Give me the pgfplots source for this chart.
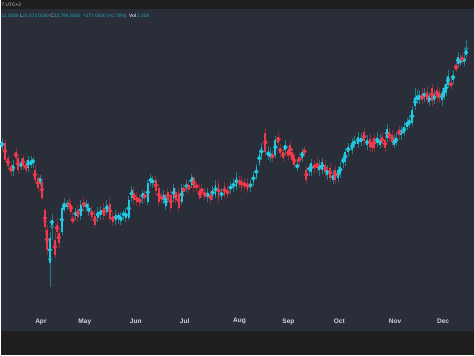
\documentclass[border=0pt]{standalone}
\usepackage{fontspec}
\setmainfont{Liberation Sans}
\usepackage{pgfplots}
\usepackage{pgfplotstable}
\pgfplotsset{compat=1.18}
\definecolor{bgc}{HTML}{2A2E39}
\definecolor{stripc}{HTML}{1E1E1E}
\definecolor{upc}{HTML}{22C8DF}
\definecolor{dnc}{HTML}{EE3A4C}
\definecolor{upw}{HTML}{1D7E8E}
\definecolor{dnw}{HTML}{8A2E3C}
\definecolor{labc}{HTML}{D1D4DC}
\definecolor{hdrc}{HTML}{26A9BC}
\definecolor{hdrw}{HTML}{C8CBD2}
% columns: x position, body top, body bottom, high, low (pixel rows, measured from the top)
\pgfplotstableread{
x t b h l
1 142 147 138 150
12 165 171 160 176
20 163 167 158 170
27 160 168 156 172
30 161 165 156 168
32 160 163 157 168
39 178 183 175 186
49 238 263 232 288
51 220 225 214 240
61 208 232 205 235
63 203 210 198 212
66 203 207 200 210
75 212 216 208 220
80 205 216 200 220
86 204 208 200 212
88 208 212 203 216
97 212 218 207 222
100 210 215 206 220
106 205 212 200 215
115 215 220 210 225
118 215 219 212 224
120 217 221 212 225
123 213 216 210 220
125 213 218 208 222
128 200 218 196 220
131 190 198 186 202
142 193 198 190 204
147 183 202 180 205
150 178 183 174 186
152 180 183 176 188
163 195 200 190 204
165 198 206 194 210
173 188 198 184 202
181 188 202 184 205
186 185 188 180 192
191 177 185 174 188
207 193 197 188 202
212 190 196 186 200
215 185 195 180 198
221 192 197 188 200
230 186 190 182 194
233 183 188 178 192
236 177 187 172 190
250 183 188 180 192
253 175 182 172 186
256 167 177 164 180
259 154 163 150 166
261 147 156 143 160
268 152 156 146 160
270 154 157 148 162
275 140 155 136 158
285 145 150 140 154
297 165 168 160 171
302 152 158 148 162
309 168 170 164 176
311 163 172 159 176
319 165 170 160 176
322 162 170 158 174
327 170 175 165 180
333 175 180 170 184
338 170 178 166 182
340 167 173 162 178
343 158 163 154 168
345 152 162 148 166
348 147 152 143 156
352 143 150 138 154
354 141 145 136 148
358 137 144 132 148
361 138 142 133 146
367 140 145 135 150
377 138 143 132 147
380 140 145 134 148
387 129 138 124 142
394 140 145 134 148
396 138 143 132 146
401 130 135 126 140
404 127 133 122 136
407 122 127 118 130
409 120 125 115 128
412 110 123 106 126
415 98 106 88 110
417 96 100 90 104
419 95 100 90 104
424 93 97 88 102
429 96 102 92 106
434 95 100 90 104
442 93 100 88 106
444 88 97 84 100
446 84 92 78 96
448 76 85 70 88
453 75 80 70 84
458 57 64 52 68
460 60 63 55 66
464 58 62 54 66
466 50 55 40 58
}\uptab
\pgfplotstableread{
x t b h l
4 143 160 140 162
7 158 166 155 170
10 166 172 163 176
15 152 158 148 162
17 158 170 155 174
22 158 166 155 170
25 164 170 160 173
34 170 180 165 183
37 178 188 175 192
41 182 198 178 200
44 210 227 208 235
46 230 250 225 255
54 240 255 232 258
56 225 232 218 236
58 233 243 228 248
68 203 207 198 212
70 205 212 200 215
72 219 222 212 224
77 210 217 205 222
83 202 207 197 212
91 211 217 206 220
94 216 225 210 228
103 208 216 203 220
109 204 219 198 222
112 216 222 212 226
133 193 200 187 205
136 197 202 192 206
139 199 203 194 207
144 195 198 190 202
155 180 191 176 194
158 188 202 184 206
161 196 200 192 204
167 192 200 188 204
170 195 208 190 212
175 192 200 188 204
178 193 208 188 212
183 188 192 184 196
188 185 190 180 194
193 178 188 175 192
196 185 188 181 192
199 190 198 184 200
201 188 193 184 198
204 192 197 188 200
210 195 200 190 204
218 184 198 180 202
224 186 195 182 198
227 190 195 186 198
239 180 185 176 188
241 180 188 176 191
244 183 187 178 190
247 183 190 178 193
265 133 152 128 156
272 155 158 150 162
278 137 143 132 146
280 148 153 144 157
283 152 158 148 162
288 150 156 146 160
290 145 155 141 158
292 152 160 148 164
294 157 165 153 168
299 157 162 153 166
304 150 153 146 157
306 170 180 166 184
314 165 168 160 174
317 163 168 158 172
325 165 172 160 178
330 168 178 164 182
335 170 180 166 184
364 132 141 128 145
370 139 147 134 152
372 143 148 138 152
374 138 148 134 152
382 137 143 132 147
385 140 148 136 152
389 132 138 128 142
392 135 142 130 146
399 130 135 126 140
422 95 100 88 104
427 92 100 86 104
432 88 101 84 106
437 90 97 86 102
439 92 98 88 103
451 83 86 78 90
456 65 70 60 72
462 57 61 52 64
}\dntab
\begin{document}
\begin{tikzpicture}
\begin{axis}[
  scale only axis, width=474bp, height=356bp,
  xmin=0, xmax=474, ymin=0, ymax=356,
  axis background/.style={fill=bgc},
  axis line style={draw=none},
  major tick length=0pt,
  ytick=\empty,
  xtick={40,84,135,184,239,288,339,395,443},
  xticklabels={Apr,May,Jun,Jul,Aug,Sep,Oct,Nov,Dec},
  xticklabel style={anchor=center, yshift=34bp, font=\bfseries\fontsize{6.6}{8}\selectfont, text=labc},
  clip mode=individual,
]
\fill[stripc] (axis cs:0,0) rectangle (axis cs:474,24);
\fill[stripc] (axis cs:0,347) rectangle (axis cs:474,356);
% wicks
\addplot[upw, only marks, mark=none, error bars/.cd, y dir=both, y explicit, error mark=none,
  error bar style={line width=0.7bp, color=upw}]
  table[x=x, y expr={356-(\thisrow{h}+\thisrow{l})/2}, y error expr={(\thisrow{l}-\thisrow{h})/2}] \uptab;
\addplot[dnw, only marks, mark=none, error bars/.cd, y dir=both, y explicit, error mark=none,
  error bar style={line width=0.7bp, color=dnw}]
  table[x=x, y expr={356-(\thisrow{h}+\thisrow{l})/2}, y error expr={(\thisrow{l}-\thisrow{h})/2}] \dntab;
% bodies
\addplot[upc, only marks, mark=none, error bars/.cd, y dir=both, y explicit, error mark=none,
  error bar style={line width=1.9bp, color=upc}]
  table[x=x, y expr={356-(\thisrow{t}+\thisrow{b})/2}, y error expr={(\thisrow{b}-\thisrow{t})/2}] \uptab;
\addplot[dnc, only marks, mark=none, error bars/.cd, y dir=both, y explicit, error mark=none,
  error bar style={line width=1.9bp, color=dnc}]
  table[x=x, y expr={356-(\thisrow{t}+\thisrow{b})/2}, y error expr={(\thisrow{b}-\thisrow{t})/2}] \dntab;
\node[anchor=west, inner sep=0, font=\fontsize{4.8}{5}\selectfont, text=hdrw] at (axis cs:0.5,351.5) {7 UTC+2};
\node[anchor=west, inner sep=0, font=\fontsize{4.8}{5}\selectfont, text=hdrc] at (axis cs:0.5,340) {11.0000\ \textcolor{hdrw}{L}22,573.0000\ \textcolor{hdrw}{C}22,794.0000\ \ +177.0000 (+0.78\%)\ \ \textcolor{hdrw}{\bfseries Vol}\,2.31K};
\end{axis}
\end{tikzpicture}
\end{document}
